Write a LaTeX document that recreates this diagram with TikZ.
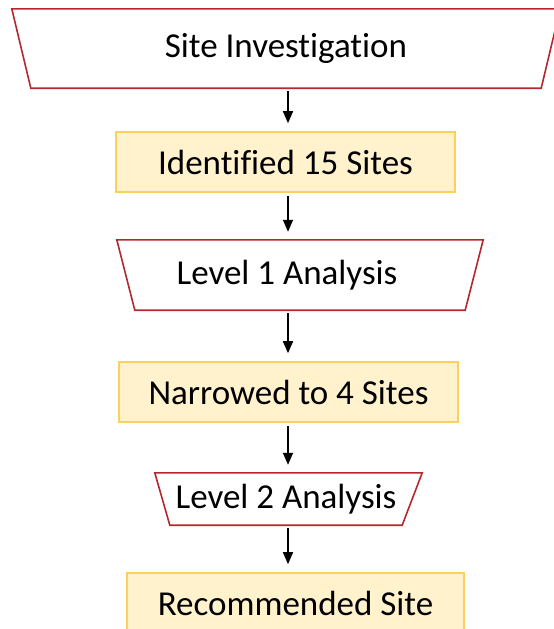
\documentclass[tikz,border=0pt]{standalone}
\usepackage{fontspec}
\setmainfont{Carlito}[Ligatures=NoCommon]
\usepackage{xcolor}
\usetikzlibrary{positioning, arrows.meta}

\definecolor{borde}{RGB}{180,40,45}
\definecolor{oro}{RGB}{250,208,95}
\definecolor{crema}{RGB}{255,242,204}

\begin{document}
\begin{tikzpicture}[x=1pt, y=-1pt, font=\fontsize{35}{42}\selectfont,
	etapa/.style={rectangle, inner sep=0pt},
	contorno/.style={draw=borde, line width=1.6pt, line join=miter},
	resultado/.style={rectangle, draw=oro, fill=crema, line width=1.6pt, minimum width=339pt, minimum height=60pt},
	flecha/.style={-{Triangle[length=12pt,width=10pt]}, line width=1.6pt, shorten <=3pt, shorten >=8pt}]
			% Marco
			\useasboundingbox (0,0) rectangle (554,629);
			
			% Etapas (base del trapecio = ancho del nodo)
			\node[etapa, minimum width=510pt, minimum height=79pt] (sitio) at (286,48.5) {Site Investigation};
			\node[etapa, minimum width=330pt, minimum height=70pt, label={[xshift=-13pt]center:Level 1 Analysis}] (nivel1) at (300,275) {};
			\node[etapa, minimum width=232pt, minimum height=52pt] (nivel2) at (286,499) {Level 2 Analysis};
			
			% Contornos inclinados
			\draw[contorno] ([xshift=-19pt]sitio.north west) -- ([xshift=19pt]sitio.north east) -- (sitio.south east) -- (sitio.south west) -- cycle;
			\draw[contorno] ([xshift=-18pt]nivel1.north west) -- ([xshift=18pt]nivel1.north east) -- (nivel1.south east) -- (nivel1.south west) -- cycle;
			\draw[contorno] ([xshift=-15pt]nivel2.north west) -- ([xshift=20pt]nivel2.north east) -- (nivel2.south east) -- (nivel2.south west) -- cycle;
			
			% Resultados
			\node[resultado] (ident) at (285.5,162) {Identified 15 Sites};
			\node[resultado] (cuatro) at (288.5,392) {Narrowed to 4 Sites};
			\node[resultado, minimum width=337pt] (final) at (295.5,603) {Recommended Site};
			
			% Flechas
			\coordinate (eje) at (288,0);
			\draw[flecha] (sitio.south -| eje) -- (ident.north -| eje);
			\draw[flecha] (ident.south -| eje) -- (nivel1.north -| eje);
			\draw[flecha] (nivel1.south -| eje) -- (cuatro.north -| eje);
			\draw[flecha] (cuatro.south -| eje) -- (nivel2.north -| eje);
			\draw[flecha] (nivel2.south -| eje) -- (final.north -| eje);
\end{tikzpicture}
\end{document}
